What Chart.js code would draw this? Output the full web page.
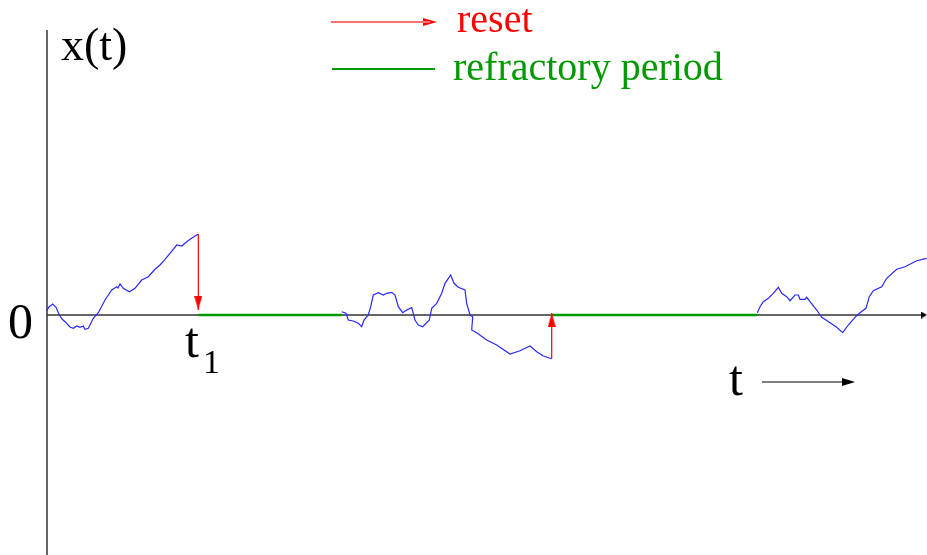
<!DOCTYPE html>
<html>
<head>
<meta charset="utf-8">
<script src="https://cdn.jsdelivr.net/npm/chart.js@4.4.0/dist/chart.umd.min.js"></script>
<style>
  body { margin: 0; background: #fff; }
  canvas { display: block; }
</style>
</head>
<body>
<canvas id="chart" width="927" height="555"></canvas>
<script>
// sample path: time t, value x(t) (0 = resting level)
const path1T = [46.7, 49, 52.7, 56, 59.3, 62, 65, 70, 73.3, 76.7, 80, 83.3, 85, 88.3, 93.3, 98.3, 105, 111.7, 116.7, 118, 120, 123.3, 129.3, 135, 141.7, 148.3, 155, 160, 165, 170, 176.7, 181.7, 186.7, 192, 198.3];
const path1X = [4.3, 8, 11, 7.7, 0, -4, -6.7, -12, -13.3, -11, -12.3, -11, -14.3, -13.3, -3.3, 2.3, 15, 25, 28.3, 27, 31, 26.7, 23.3, 26.7, 35, 38.3, 45.7, 50, 55.7, 61.7, 70, 69, 73.3, 77, 81];

const path2T = [341.7, 346, 348.3, 353.3, 358.3, 361.7, 364, 368.3, 370.7, 373.3, 378.3, 383.3, 386.7, 391.7, 395, 398.3, 402.7, 406.7, 411.7, 415, 418.3, 422.7, 429.3, 431.7, 436.7, 441.7, 445, 450.7, 454, 458.3, 465, 466.7, 470, 472.7, 471.7, 476.7, 486.7, 496.7, 510, 520, 530, 536.7, 543.3, 551.7];
const path2X = [3.3, 1.7, -5, -6, -8.3, -11.7, -5, 0, 8.3, 20, 22.3, 20, 21.7, 22.7, 20, 8.3, 2.3, 5, 7.3, -5, -10, -11.7, -5, 6.7, 11.7, 21.7, 31.7, 40, 31.7, 27.7, 25, 11.7, 0, -1.7, -15, -17.7, -25, -30, -39, -35.7, -31, -36.7, -41, -43.7];

const path3T = [757.3, 760, 763.3, 768.3, 773.3, 778.3, 781.7, 786.7, 790, 795, 798.3, 800, 805, 806.7, 810, 816.7, 821.7, 826, 830, 836.7, 842.7, 848.3, 855, 860, 866, 869.3, 873.3, 881.7, 886.7, 896.7, 905, 916.7, 926.7];
const path3X = [2.3, 8.3, 13.3, 16.7, 21.7, 27.7, 21.7, 18.3, 14.3, 20, 20, 15.7, 15.7, 17.7, 13.3, 5, -2.3, -5, -7.7, -12.3, -17.7, -10, -2.3, 2.3, 6.7, 18.3, 24.3, 28.3, 36.7, 45.7, 48.3, 54.3, 56.7];

// resets: time, value before reset, value after
const resetT = [198.3, 551.7];
const resetFrom = [81, -43.7];
const resetTo = [5, 2];

// refractory periods [start, end]
const refractStart = [198.3, 551.7];
const refractEnd = [341.7, 757.3];

const tMin = 0, tMax = 927;
const xMin = -240, xMax = 315;
const axisT = 47;

const RED = '#ff0000';
const GREEN = '#009a00';
const BLUE = '#2828ff';

function pts(ts, xs) {
    return ts.map((t, i) => ({ x: t, y: xs[i] }));
}

// arrow head image, tip in the centre so the point sits on the line end
function arrowHead(color, w, len) {
    const c = document.createElement('canvas');
    c.width = w;
    c.height = len * 2;
    const g = c.getContext('2d');
    g.fillStyle = color;
    g.beginPath();
    g.moveTo(w / 2, len);
    g.lineTo(0, len * 2);
    g.lineTo(w, len * 2);
    g.closePath();
    g.fill();
    return c;
}
const redHead = arrowHead(RED, 8, 14);
const blackHead = arrowHead('#000', 8, 13);
const axisHead = arrowHead('#000', 7, 6);

// higher order is drawn first (further back)
function line(data, color, width, order) {
    return { data, showLine: true, borderColor: color, borderWidth: width, pointRadius: 0, fill: false, order: order || 0 };
}
function head(t, x, img, rot) {
    return { data: [{ x: t, y: x }], showLine: false, pointStyle: img, rotation: rot, pointRadius: 4, pointHoverRadius: 4, order: 0 };
}

const datasets = [];
// axes
datasets.push(line([{ x: axisT, y: 0 }, { x: 925, y: 0 }], '#333', 1.6, 10));
datasets.push(line([{ x: axisT, y: 285 }, { x: axisT, y: xMin }], '#000', 1.2, 10));
datasets.push(head(927, 0, axisHead, 90));
// refractory periods
refractStart.forEach((s, i) => {
    datasets.push(line([{ x: s, y: 0 }, { x: refractEnd[i], y: 0 }], GREEN, 2.5, 5));
});
// sample path
[[path1T, path1X], [path2T, path2X], [path3T, path3X]].forEach(p => {
    datasets.push(line(pts(p[0], p[1]), BLUE, 1.2, 1));
});
// reset arrows
resetT.forEach((t, i) => {
    datasets.push(line([{ x: t, y: resetFrom[i] }, { x: t, y: resetTo[i] }], RED, 1.2));
    datasets.push(head(t, resetTo[i], redHead, resetTo[i] < resetFrom[i] ? 180 : 0));
});
// legend marks
datasets.push(line([{ x: 331, y: 293 }, { x: 430, y: 293 }], '#ff7070', 2));
datasets.push(head(437, 293, redHead, 90));
datasets.push(line([{ x: 332, y: 246 }, { x: 435, y: 246 }], GREEN, 2.2));
// time arrow
datasets.push(line([{ x: 762, y: -67 }, { x: 850, y: -67 }], '#000', 1.2));
datasets.push(head(855, -67, blackHead, 90));

// text labels placed at (t, x) of their baseline-left corner
const labels = [
    { text: 'x(t)', t: 61, x: 255, size: 46, color: '#000' },
    { text: '0', t: 8, x: -23, size: 50, color: '#000' },
    { text: 't', t: 185, x: -42, size: 50, color: '#000' },
    { text: '1', t: 203, x: -58, size: 34, color: '#000' },
    { text: 't', t: 729, x: -80, size: 50, color: '#000' },
    { text: 'reset', t: 457, x: 283, size: 40, color: RED },
    { text: 'refractory period', t: 453, x: 235, size: 40, color: GREEN }
];

const textPlugin = {
    id: 'texts',
    afterDatasetsDraw(chart) {
        const ctx = chart.ctx;
        const sx = chart.scales.x, sy = chart.scales.y;
        ctx.save();
        ctx.textBaseline = 'alphabetic';
        ctx.textAlign = 'left';
        labels.forEach(l => {
            ctx.font = l.size + 'px "Liberation Serif", "Times New Roman", serif';
            ctx.fillStyle = l.color;
            ctx.fillText(l.text, sx.getPixelForValue(l.t), sy.getPixelForValue(l.x));
        });
        ctx.restore();
    }
};

new Chart(document.getElementById('chart').getContext('2d'), {
    type: 'scatter',
    data: { datasets },
    options: {
        responsive: false,
        animation: false,
        devicePixelRatio: 1,
        layout: { padding: 0, autoPadding: false },
        events: [],
        plugins: { legend: { display: false }, tooltip: { enabled: false } },
        scales: {
            x: { type: 'linear', display: false, min: tMin, max: tMax },
            y: { type: 'linear', display: false, min: xMin, max: xMax }
        }
    },
    plugins: [textPlugin]
});
</script>
</body>
</html>
